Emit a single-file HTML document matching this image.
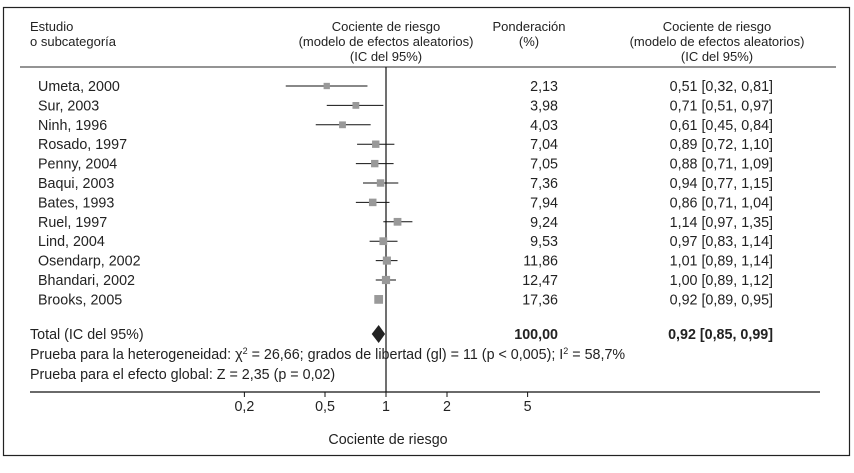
<!DOCTYPE html>
<html><head><meta charset="utf-8"><style>
html,body{margin:0;padding:0;background:#fff}
svg text{font-family:"Liberation Sans",sans-serif;font-size:14.3px;fill:#222}
svg .hd text{font-size:13px}
</style></head><body>
<svg width="854" height="468">
<rect x="3.5" y="7.5" width="846" height="448" fill="none" stroke="#222" stroke-width="1.2"/>
<g class="hd">
<text x="30" y="31">Estudio</text><text x="30" y="46">o subcategoría</text>
<text x="386" y="31" text-anchor="middle">Cociente de riesgo</text>
<text x="386" y="46" text-anchor="middle">(modelo de efectos aleatorios)</text>
<text x="386" y="61" text-anchor="middle">(IC del 95%)</text>
<text x="529" y="31" text-anchor="middle">Ponderación</text>
<text x="529" y="46" text-anchor="middle">(%)</text>
<text x="717" y="31" text-anchor="middle">Cociente de riesgo</text>
<text x="717" y="46" text-anchor="middle">(modelo de efectos aleatorios)</text>
<text x="717" y="61" text-anchor="middle">(IC del 95%)</text>
</g>
<line x1="20" y1="67" x2="836" y2="67" stroke="#555" stroke-width="1.3"/>
<g id="plot"></g>
</svg>
<script>
const studies=["Umeta, 2000","Sur, 2003","Ninh, 1996","Rosado, 1997","Penny, 2004","Baqui, 2003","Bates, 1993","Ruel, 1997","Lind, 2004","Osendarp, 2002","Bhandari, 2002","Brooks, 2005"];
const rr=[0.51,0.71,0.61,0.89,0.88,0.94,0.86,1.14,0.97,1.01,1.00,0.92];
const lo=[0.32,0.51,0.45,0.72,0.71,0.77,0.71,0.97,0.83,0.89,0.89,0.89];
const hi=[0.81,0.97,0.84,1.10,1.09,1.15,1.04,1.35,1.14,1.14,1.12,0.95];
const weights=[2.13,3.98,4.03,7.04,7.05,7.36,7.94,9.24,9.53,11.86,12.47,17.36];
const ticks=[0.2,0.5,1,2,5];
const pooled=[0.92,0.85,0.99];
const NS="http://www.w3.org/2000/svg";
const g=document.getElementById('plot');
const X=v=>386+202.6*Math.log10(v);
const Y=i=>86+19.4*i;
const fmt=v=>v.toFixed(2).replace('.',',');
function el(t,a,txt){const e=document.createElementNS(NS,t);for(const k in a)e.setAttribute(k,a[k]);if(txt!=null)e.textContent=txt;g.appendChild(e);return e;}
const ref=el('line',{x1:X(1),x2:X(1),y1:67,y2:392,stroke:'#111','stroke-width':1.2});


studies.forEach((s,i)=>{
 const y=Y(i);
 const t=el('text',{x:38,y:y+5},s);
 
 
 const l=el('line',{x1:X(lo[i]),x2:X(hi[i]),y1:y,y2:y,stroke:'#111','stroke-width':1});
 
 
 const sz=5+Math.sqrt(weights[i])*0.9;
 const r=el('rect',{x:X(rr[i])-sz/2,y:y-sz/2,width:sz,height:sz,fill:'#999'});
 
 
 const w=el('text',{x:558,y:y+5,'text-anchor':'end'},fmt(weights[i]));
 
 
 const c=el('text',{x:773,y:y+5,'text-anchor':'end'},fmt(rr[i])+' ['+fmt(lo[i])+', '+fmt(hi[i])+']');
 
 
});
const ty=334;
const tl=el('text',{x:30,y:ty+5},'Total (IC del 95%)');


const d=el('polygon',{points:`${X(pooled[1])},${ty} ${X(pooled[0])},${ty-9} ${X(pooled[2])},${ty} ${X(pooled[0])},${ty+9}`,fill:'#222'});


const tw=el('text',{x:558,y:ty+5,'text-anchor':'end','font-weight':'bold'},'100,00');


const tc=el('text',{x:773,y:ty+5,'text-anchor':'end','font-weight':'bold'},fmt(pooled[0])+' ['+fmt(pooled[1])+', '+fmt(pooled[2])+']');


const h=el('text',{x:30,y:359});
h.innerHTML='Prueba para la heterogeneidad: χ<tspan dy="-5" font-size="9">2</tspan><tspan dy="5"> = 26,66; grados de libertad (gl) = 11 (p &lt; 0,005); I</tspan><tspan dy="-5" font-size="9">2</tspan><tspan dy="5"> = 58,7%</tspan>';


const ge=el('text',{x:30,y:379},'Prueba para el efecto global: Z = 2,35 (p = 0,02)');


const ax=el('line',{x1:30,x2:820,y1:392,y2:392,stroke:'#111','stroke-width':1.2});


ticks.forEach(v=>{
 const tk=el('line',{x1:X(v),x2:X(v),y1:392,y2:397,stroke:'#111'});
 
 
 const tx=el('text',{x:X(v),y:411,'text-anchor':'middle'},String(v).replace('.',','));
 
 
});
const at=el('text',{x:388,y:444,'text-anchor':'middle'},'Cociente de riesgo');


</script>
</body></html>
